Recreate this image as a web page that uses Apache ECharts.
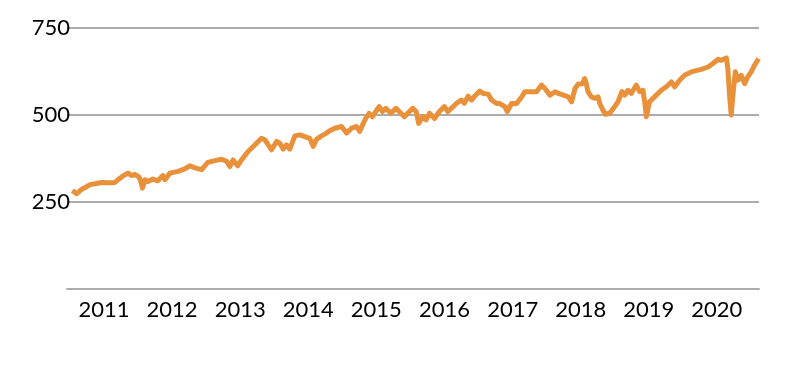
<!DOCTYPE html>
<html>
<head>
<meta charset="utf-8">
<script src="https://cdn.jsdelivr.net/npm/echarts@6/dist/echarts.min.js"></script>
<style>
html,body{margin:0;padding:0;background:#fff;}
#chart{width:790px;height:366px;}
</style>
</head>
<body>
<div id="chart"></div>
<script>
const dates = [
'2010-07-16','2010-08-08','2010-09-03','2010-09-27','2010-10-18','2010-11-23','2010-12-20',
'2011-01-22','2011-03-01','2011-03-17','2011-04-13','2011-05-10','2011-05-29','2011-06-16','2011-07-08','2011-07-18','2011-07-27','2011-08-09','2011-08-25','2011-09-21','2011-10-17','2011-11-13','2011-11-24','2011-12-21',
'2012-02-02','2012-03-10','2012-04-06','2012-05-03','2012-06-08','2012-07-11','2012-08-18','2012-09-23','2012-10-20','2012-11-06','2012-11-24','2012-12-18',
'2013-01-08','2013-02-12','2013-03-20','2013-04-25','2013-05-13','2013-05-31','2013-06-18','2013-07-15','2013-08-01','2013-08-19','2013-09-06','2013-09-24','2013-10-21','2013-11-17','2013-12-13',
'2014-01-09','2014-01-27','2014-02-14','2014-03-13','2014-04-09','2014-04-26','2014-05-23','2014-06-28','2014-07-25','2014-08-21','2014-09-16','2014-10-04','2014-10-22','2014-11-05','2014-11-23','2014-12-11','2014-12-29',
'2015-01-16','2015-02-03','2015-02-21','2015-03-20','2015-04-16','2015-05-13','2015-05-31','2015-06-18','2015-07-15','2015-08-02','2015-08-16','2015-09-07','2015-09-25','2015-10-13','2015-11-09','2015-12-05',
'2016-01-01','2016-01-19','2016-02-07','2016-03-05','2016-04-01','2016-04-17','2016-05-07','2016-05-26','2016-06-11','2016-07-09','2016-07-27','2016-08-23','2016-09-10','2016-10-07','2016-10-24','2016-11-20','2016-12-03','2016-12-26',
'2017-01-22','2017-02-18','2017-03-08','2017-04-03','2017-05-09','2017-06-05','2017-06-23','2017-07-20','2017-08-16','2017-09-03','2017-09-30','2017-10-26','2017-11-13','2017-12-01','2017-12-19',
'2018-01-11','2018-01-22','2018-01-31','2018-02-09','2018-02-27','2018-03-17','2018-04-04','2018-04-13','2018-04-30','2018-05-13','2018-06-05','2018-07-02','2018-07-20','2018-08-10','2018-08-25','2018-09-11','2018-09-29','2018-10-26','2018-11-13','2018-12-01','2018-12-10','2018-12-19',
'2019-01-05','2019-02-01','2019-03-09','2019-04-05','2019-05-02','2019-05-20','2019-06-15','2019-07-12','2019-08-17','2019-09-22','2019-10-10','2019-11-15','2019-12-11',
'2020-01-07','2020-01-25','2020-02-21','2020-02-29','2020-03-09','2020-03-18','2020-03-27','2020-04-09','2020-04-23','2020-05-11','2020-05-29','2020-06-15','2020-07-03','2020-07-21','2020-08-12'
];
const values = [
283,274,286,293,300,303,306,
305,306,314,325,333,326,329,322,309,290,314,309,316,311,326,314,333,
338,345,354,348,343,364,369,373,367,352,371,354,
371,395,414,433,429,414,400,424,419,402,414,402,440,443,438,
433,410,430,440,448,455,462,467,448,462,467,453,475,490,505,495,510,
524,510,519,505,519,505,495,505,519,510,476,495,486,505,490,510,
524,510,519,533,543,534,554,543,554,569,562,560,543,533,533,524,510,533,
533,552,567,567,567,586,576,557,567,562,557,552,538,576,589,
590,605,590,567,552,548,552,533,514,502,505,524,538,567,557,571,562,586,567,571,538,495,
538,552,571,581,595,581,600,614,624,629,631,638,648,
660,657,664,633,557,500,557,624,600,614,590,610,624,643,662
];
const yTicks = [0, 250, 500, 750];

const chart = echarts.init(document.getElementById('chart'), null, {renderer: 'canvas'});
const font = 'Lato, "Noto Sans", sans-serif';
chart.setOption({
  animation: false,
  backgroundColor: '#ffffff',
  grid: {left: 67, right: 31, top: 28, bottom: 77, containLabel: false},
  xAxis: {
    type: 'time',
    min: '2010-06-17',
    max: '2020-08-14',
    splitNumber: 10,
    minInterval: 365 * 86400000,
    axisLine: {show: true, lineStyle: {color: '#ADADAD', width: 2}},
    axisTick: {show: false},
    splitLine: {show: false},
    axisLabel: {
      formatter: '{yyyy}',
      showMinLabel: false,
      showMaxLabel: false,
      color: '#000',
      fontFamily: font,
      fontSize: 22,
      margin: 10,
      hideOverlap: false
    }
  },
  yAxis: {
    type: 'value',
    min: yTicks[0],
    max: yTicks[yTicks.length - 1],
    interval: 250,
    axisLine: {show: false},
    axisTick: {show: false},
    splitLine: {show: true, lineStyle: {color: '#ADADAD', width: 2}},
    axisLabel: {
      color: '#000',
      fontFamily: font,
      fontSize: 22,
      margin: -3,
      formatter: v => (v === 0 ? '' : String(v))
    }
  },
  series: [{
    type: 'line',
    data: dates.map((d, i) => [d, values[i]]),
    showSymbol: false,
    lineStyle: {color: '#E8913A', width: 5, join: 'round'},
    itemStyle: {color: '#E8913A'}
  }]
});
</script>
</body>
</html>
